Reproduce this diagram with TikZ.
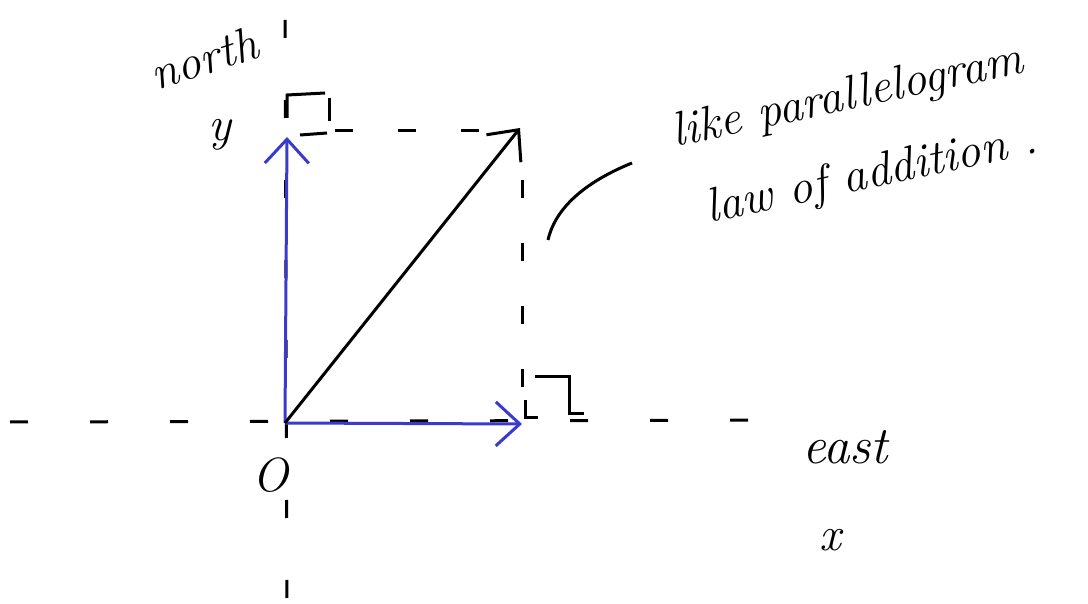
\documentclass[tikz,border=0pt]{standalone}
\usepackage{amsmath}
\usetikzlibrary{arrows.meta}
\definecolor{penblue}{RGB}{58,58,205}

\begin{document}
\begin{tikzpicture}[x=1pt, y=-1pt, >={Straight Barb[length=24pt,width=44pt]},
    axis/.style={line width=3pt, dash pattern=on 18pt off 62pt},
    guide/.style={line width=3pt, dash pattern=on 18pt off 45pt},
    tick/.style={line width=3pt},
    vec/.style={line width=3pt, ->},
    hand/.style={font=\fontsize{48}{54}\selectfont\itshape, inner sep=0pt}]

\useasboundingbox (0,0) rectangle (1088,604);

% ---- Points ----
            \coordinate (O) at (285,423);
            \coordinate (Y) at (287,137);
            \coordinate (X) at (522,424);
            \coordinate (R) at (520,128);

% ---- Axes (dashed) ----
            \draw[axis] (10,422) -- (785,420);
            \draw[axis] (285,20) -- (287,600);

% ---- Completing the rectangle ----
            \draw[guide] (335,131) -- (505,131);
            \draw[guide] (522,180) -- (522,410);

% ---- Right angle marks ----
            \draw[tick] (287,118) -- (287,95) -- (325,93);
            \draw[tick] (329,98) -- (329,121);
            \draw[tick] (300,135) -- (327,133);
            \draw[tick] (535,376) -- (569,376) -- (569,413) -- (584,413);
            \draw[tick] (525,400) -- (525,417) -- (538,417);

% ---- Vectors ----
            \draw[vec, penblue] (O) -- (Y);
            \draw[vec, penblue] (O) -- (X);
            \draw[vec] (O) -- (R);

% ---- Labels ----
            \node[hand, rotate=18] (north) at (204,58) {north};
            \node[hand] (ylab) at (220,135) {y};
            \node[hand] (olab) at (270,475) {O};
            \node[hand, scale=1.1] (east) at (845,447) {east};
            \node[hand] (xlab) at (830,540) {x};
            \node[hand, rotate=12] (note1) at (848,98) {like parallelogram};
            \node[hand, rotate=12] (note2) at (872,176) {law of addition .};

% ---- Pointer to the note ----
            \coordinate (p) at (548,240);
            \coordinate (q) at (632,163);
            \draw[tick] (p) .. controls (556,205) and (590,180) .. (q);

\end{tikzpicture}
\end{document}
